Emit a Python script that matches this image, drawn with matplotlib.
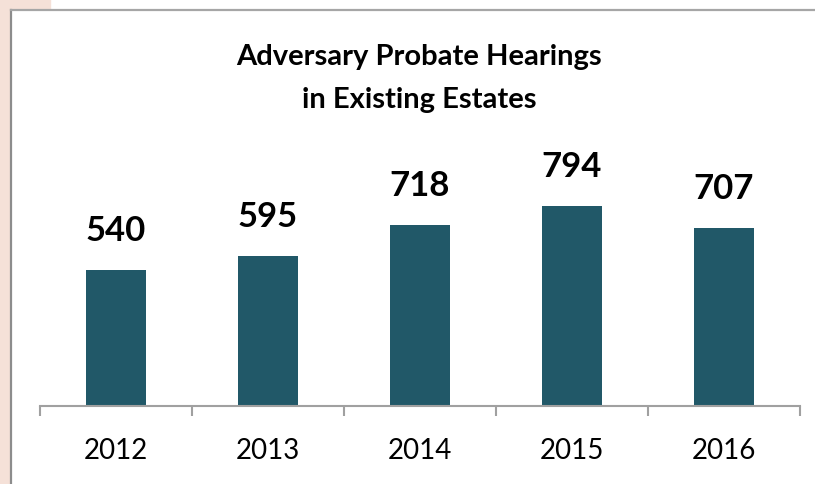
import matplotlib
matplotlib.use("Agg")
import matplotlib.pyplot as plt
from matplotlib.patches import Rectangle
from matplotlib.lines import Line2D

years = ["2012", "2013", "2014", "2015", "2016"]
hearings = [540, 595, 718, 794, 707]
title_lines = ["Adversary Probate Hearings", "in Existing Estates"]

W, H = 815, 485
fig = plt.figure(figsize=(W / 100, H / 100), dpi=100)
fig.patch.set_facecolor("white")

def fx(px):
    return px / W

def fy(py):
    return 1 - py / H

pink = "#F5E1D8"
fig.patches.append(Rectangle((0, 0), fx(10), 1, transform=fig.transFigure, color=pink, zorder=0))
fig.patches.append(Rectangle((0, fy(10)), fx(50), 10 / H, transform=fig.transFigure, color=pink, zorder=0))
fig.lines.append(Line2D([fx(11), fx(11)], [0, fy(11)], transform=fig.transFigure, color="#8C8C8C", lw=1.6))
fig.lines.append(Line2D([fx(11), 1], [fy(11), fy(11)], transform=fig.transFigure, color="#A6A6A6", lw=1.6))

base = 407
top = 155
ax = fig.add_axes([fx(40), fy(base), fx(800) - fx(40), (base - top) / H])
ax.set_facecolor("none")
x = list(range(len(years)))
bars = ax.bar(x, hearings, width=0.4, color="#215868", zorder=2)
ax.set_xlim(-0.5, len(years) - 0.5)
ax.set_ylim(0, 1000)
for s in ["top", "left", "right"]:
    ax.spines[s].set_visible(False)
ax.spines["bottom"].set_color("#A0A0A0")
ax.spines["bottom"].set_linewidth(1.5)
ax.set_yticks([])
ax.set_xticks([i - 0.5 for i in range(len(years) + 1)], minor=False)
ax.set_xticklabels([])
ax.tick_params(axis="x", which="major", length=7, width=1.5, color="#A0A0A0", direction="out")
ax.set_xticks(x, minor=True)
ax.set_xticklabels(years, minor=True, fontsize=20, family="Lato")
ax.tick_params(axis="x", which="minor", length=0, pad=22)

for xi, v in zip(x, hearings):
    ax.annotate(str(v), (xi, v), xytext=(0, 24 * 0.72), textcoords="offset points",
                ha="center", va="bottom", fontsize=25, fontweight="bold", family="Lato")

fig.text(fx(419), fy(57), title_lines[0], ha="center", va="center", fontsize=21, fontweight="bold", family="Lato")
fig.text(fx(419), fy(100), title_lines[1], ha="center", va="center", fontsize=21, fontweight="bold", family="Lato")

fig.savefig("out.png", dpi=100)
